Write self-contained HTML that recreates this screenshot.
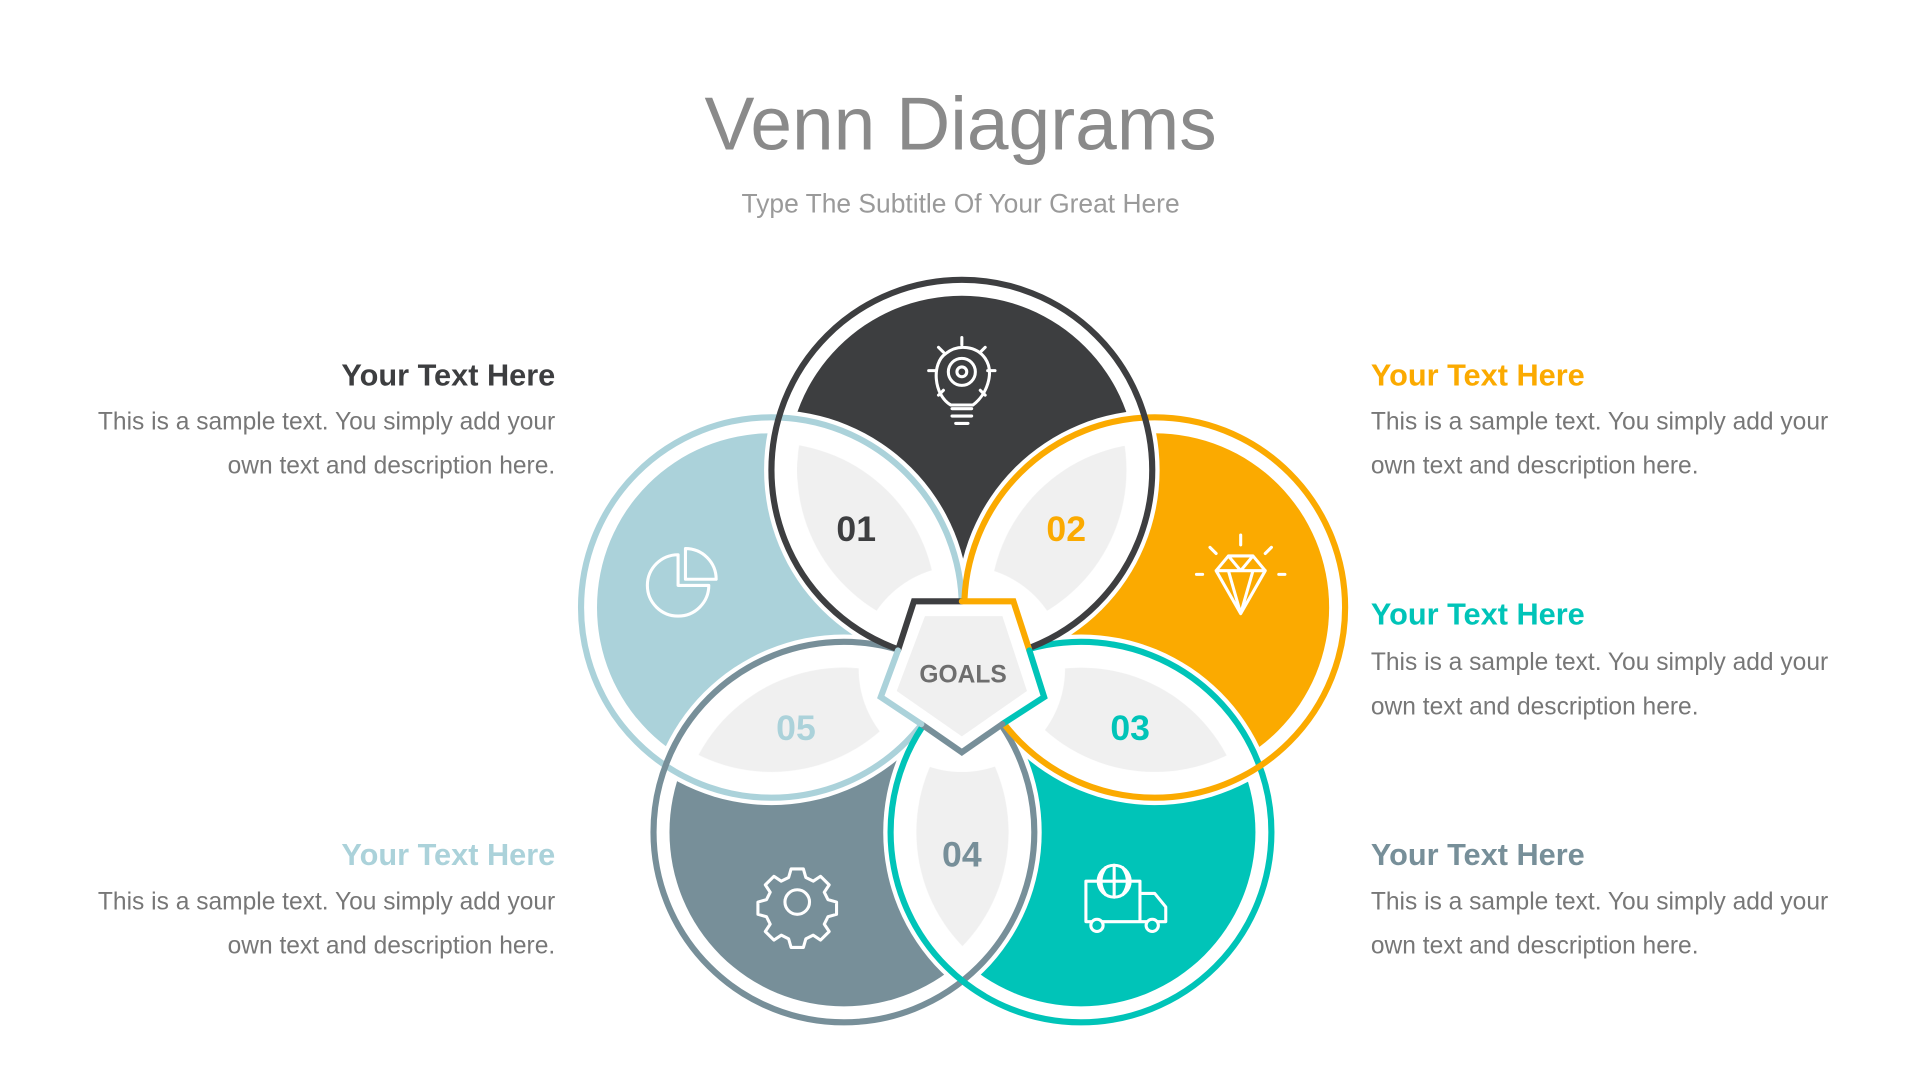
<!DOCTYPE html>
<html><head><meta charset="utf-8">
<style>
html,body{margin:0;padding:0;background:#fff;}
svg{display:block;}
text{font-family:"Liberation Sans",Arial,sans-serif;}
</style></head>
<body>
<svg width="1920" height="1080" viewBox="0 0 1563 880" preserveAspectRatio="none" xmlns="http://www.w3.org/2000/svg">
<defs>
  <mask id="m1"><rect width="1563" height="880" fill="#fff"/><circle cx="628" cy="495" r="161" fill="#000"/><circle cx="940" cy="495" r="161" fill="#000"/></mask>
  <mask id="m2"><rect width="1563" height="880" fill="#fff"/><circle cx="783" cy="383" r="161" fill="#000"/><circle cx="880" cy="678" r="161" fill="#000"/></mask>
  <mask id="m3"><rect width="1563" height="880" fill="#fff"/><circle cx="940" cy="495" r="161" fill="#000"/><circle cx="687" cy="678" r="161" fill="#000"/></mask>
  <mask id="m4"><rect width="1563" height="880" fill="#fff"/><circle cx="880" cy="678" r="161" fill="#000"/><circle cx="628" cy="495" r="161" fill="#000"/></mask>
  <mask id="m5"><rect width="1563" height="880" fill="#fff"/><circle cx="687" cy="678" r="161" fill="#000"/><circle cx="783" cy="383" r="161" fill="#000"/></mask>
  <mask id="mc"><rect width="1563" height="880" fill="#fff"/><circle cx="783" cy="545" r="84" fill="#000"/></mask>
  <clipPath id="c1"><circle cx="783" cy="383" r="134"/></clipPath>
  <clipPath id="c2"><circle cx="940" cy="495" r="134"/></clipPath>
  <clipPath id="c3"><circle cx="880" cy="678" r="134"/></clipPath>
  <clipPath id="c4"><circle cx="687" cy="678" r="134"/></clipPath>
  <clipPath id="c5"><circle cx="628" cy="495" r="134"/></clipPath>
</defs>

<text x="782" y="122" text-anchor="middle" font-size="61" fill="#8a8a8a">Venn Diagrams</text>
<text x="782" y="173" text-anchor="middle" font-size="21.5" fill="#9a9a9a">Type The Subtitle Of Your Great Here</text>

<circle cx="783" cy="383" r="142" fill="#3d3e40" mask="url(#m1)"/>
<circle cx="940" cy="495" r="142" fill="#fbaa00" mask="url(#m2)"/>
<circle cx="880" cy="678" r="142" fill="#00c4b8" mask="url(#m3)"/>
<circle cx="687" cy="678" r="142" fill="#778f99" mask="url(#m4)"/>
<circle cx="628" cy="495" r="142" fill="#abd2da" mask="url(#m5)"/>

<g mask="url(#mc)" fill="#f0f0f0">
  <g clip-path="url(#c1)"><circle cx="628" cy="495" r="134"/></g>
  <g clip-path="url(#c2)"><circle cx="783" cy="383" r="134"/></g>
  <g clip-path="url(#c3)"><circle cx="940" cy="495" r="134"/></g>
  <g clip-path="url(#c4)"><circle cx="880" cy="678" r="134"/></g>
  <g clip-path="url(#c5)"><circle cx="687" cy="678" r="134"/></g>
</g>

<g fill="none" stroke-width="5">
  <circle cx="628" cy="495" r="155" stroke="#abd2da"/>
  <circle cx="687" cy="678" r="155" stroke="#778f99"/>
  <circle cx="880" cy="678" r="155" stroke="#00c4b8"/>
  <circle cx="940" cy="495" r="155" stroke="#fbaa00"/>
  <circle cx="783" cy="383" r="155" stroke="#3d3e40"/>
</g>

<polygon points="744,490 825,490 850,568 783,613 717,568" fill="#fff"/>
<polygon points="753,502 816,502 836,563 783,600 730,563" fill="#f0f0f0"/>
<g stroke-width="5" fill="none" stroke-linecap="round">
  <polyline points="783,490 744,490 731,530" stroke="#3d3e40"/>
  <polyline points="783,490 825,490 838,530" stroke="#fbaa00"/>
  <polyline points="838,530 850,568 816,590" stroke="#00c4b8"/>
  <polyline points="816,590 783,613 750,590" stroke="#778f99"/>
  <polyline points="750,590 717,568 731,530" stroke="#abd2da"/>
</g>
<text x="784" y="556" text-anchor="middle" font-size="20" font-weight="bold" fill="#6e6e6e">GOALS</text>

<g font-size="29" font-weight="bold" text-anchor="middle">
  <text x="697" y="441" fill="#3d3e40">01</text>
  <text x="868" y="441" fill="#fbaa00">02</text>
  <text x="920" y="603" fill="#00c4b8">03</text>
  <text x="783" y="706" fill="#778f99">04</text>
  <text x="648" y="603" fill="#abd2da">05</text>
</g>

<g fill="none" stroke="#fff" stroke-width="2.5" stroke-linecap="round" stroke-linejoin="round">
  <path d="M774,330 C760,322 758,296 770,288 C780,280 795,282 802,292 C810,304 803,322 792,330 Z"/>
  <circle cx="783" cy="303" r="11"/><circle cx="783" cy="303" r="4"/>
  <path d="M775,333 h16 M775,339 h16 M778,345 h10"/>
  <path d="M783,275 v6 M764,283 l4,4 M802,283 l-4,4 M756,302 h6 M804,302 h6 M764,322 l4,-4 M802,322 l-4,-4"/>
  <path d="M552,452 A25,25 0 1 0 577,477 L552,477 Z"/>
  <path d="M558,447 A25,25 0 0 1 583,472 L558,472 Z"/>
  <path d="M990,465 L1000,453 H1020 L1030,465 L1010,500 Z M990,465 H1030 M1000,453 L1010,465 L1020,453 M1000,465 L1010,500 L1020,465"/>
  <path d="M1010,436 v8 M985,446 l5,5 M1035,446 l-5,5 M974,468 h5 M1041,468 h5"/>
  <circle cx="649" cy="735" r="10"/>
  <path d="M644,708 h10 l2,7 l6,3 l6,-4 l7,7 l-4,6 l3,6 l7,2 v10 l-7,2 l-3,6 l4,6 l-7,7 l-6,-4 l-6,3 l-2,7 h-10 l-2,-7 l-6,-3 l-6,4 l-7,-7 l4,-6 l-3,-6 l-7,-2 v-10 l7,-2 l3,-6 l-4,-6 l7,-7 l6,4 l6,-3 Z"/>
  <path d="M884,718 h44 v33 h-44 Z M928,728 h12 l9,11 v12 h-21 Z"/>
  <circle cx="893" cy="754" r="5" fill="#00c4b8"/><circle cx="938" cy="754" r="5" fill="#00c4b8"/>
  <circle cx="907" cy="718" r="13" fill="#00c4b8"/>
  <path d="M894,718 h26 M907,705 v26 M900,707 c-5,7 -5,15 0,22 M914,707 c5,7 5,15 0,22"/>
</g>

<g font-size="25" font-weight="bold">
  <text x="452" y="314" text-anchor="end" fill="#3d3e40">Your Text Here</text>
  <text x="452" y="705" text-anchor="end" fill="#abd2da">Your Text Here</text>
  <text x="1116" y="314" fill="#fbaa00">Your Text Here</text>
  <text x="1116" y="509" fill="#00c4b8">Your Text Here</text>
  <text x="1116" y="705" fill="#778f99">Your Text Here</text>
</g>
<g font-size="20" fill="#777">
  <text x="452" y="350" text-anchor="end">This is a sample text. You simply add your</text>
  <text x="452" y="386" text-anchor="end">own text and description here.</text>
  <text x="452" y="741" text-anchor="end">This is a sample text. You simply add your</text>
  <text x="452" y="777" text-anchor="end">own text and description here.</text>
  <text x="1116" y="350">This is a sample text. You simply add your</text>
  <text x="1116" y="386">own text and description here.</text>
  <text x="1116" y="546">This is a sample text. You simply add your</text>
  <text x="1116" y="582">own text and description here.</text>
  <text x="1116" y="741">This is a sample text. You simply add your</text>
  <text x="1116" y="777">own text and description here.</text>
</g>
</svg>
</body></html>
